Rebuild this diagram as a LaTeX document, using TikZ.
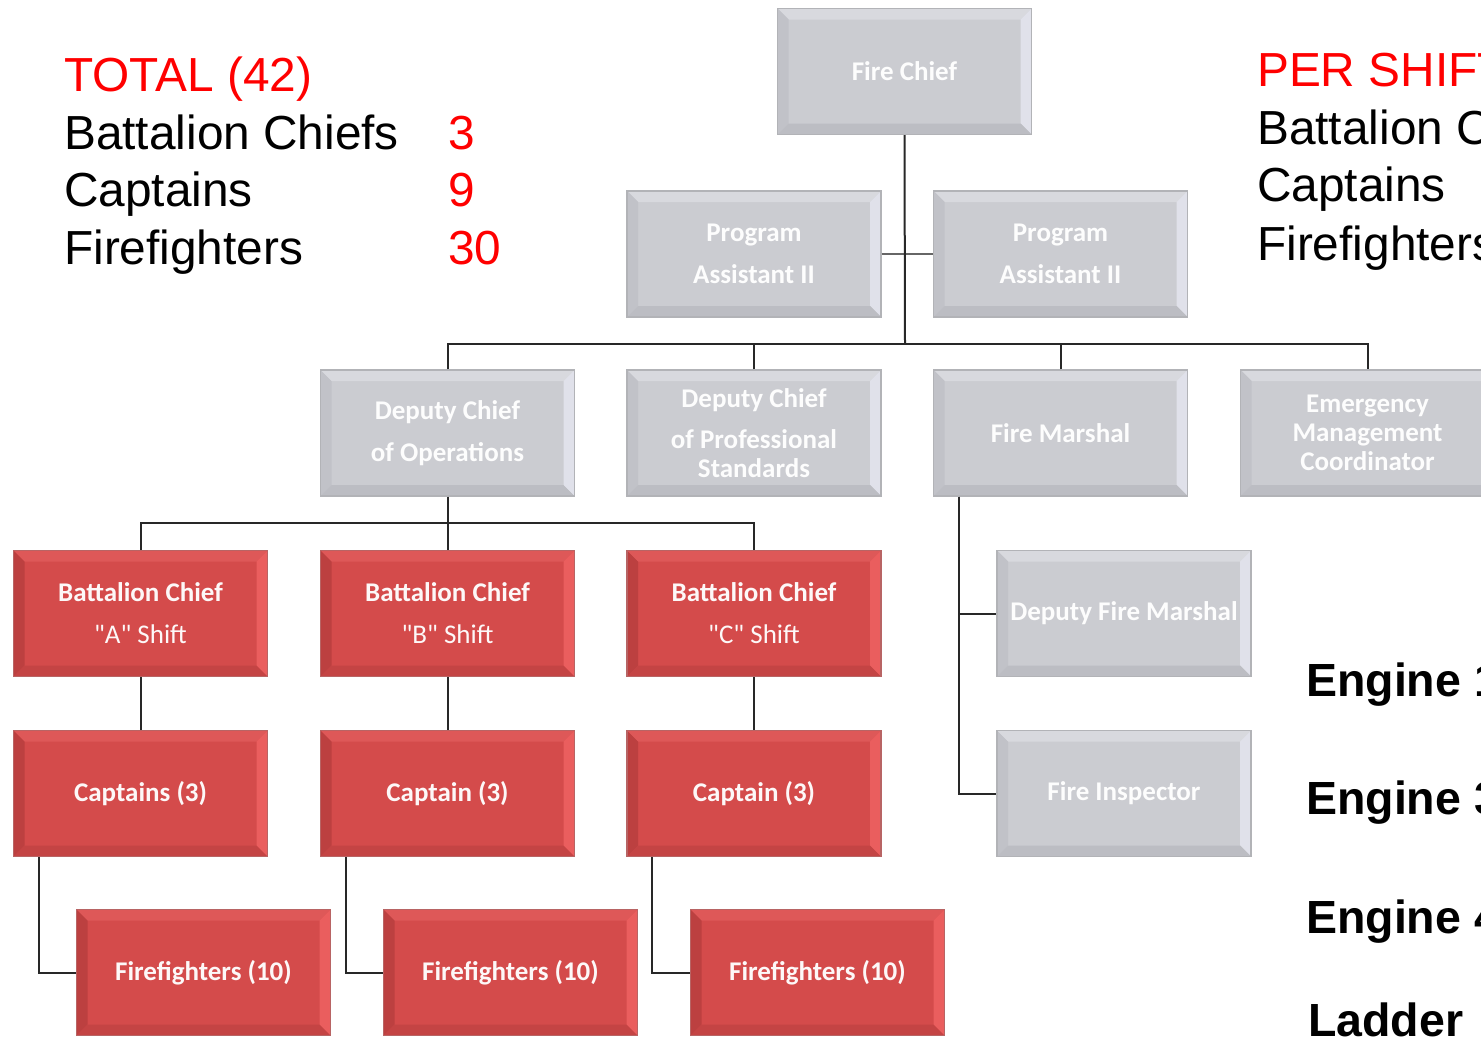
\documentclass[tikz,border=0pt]{standalone}
\usepackage{fontspec}
\newfontfamily\arialfont{Liberation Sans}
\newfontfamily\calfont{Carlito}
\definecolor{gC}{RGB}{203,204,209}
\definecolor{gT}{RGB}{216,217,222}
\definecolor{gL}{RGB}{193,194,200}
\definecolor{gR}{RGB}{224,225,234}
\definecolor{gB}{RGB}{188,189,195}
\definecolor{gBd}{RGB}{178,179,183}
\definecolor{rC}{RGB}{212,75,75}
\definecolor{rT}{RGB}{222,88,88}
\definecolor{rL}{RGB}{188,64,64}
\definecolor{rR}{RGB}{234,94,94}
\definecolor{rB}{RGB}{196,68,68}
\definecolor{rBd}{RGB}{184,100,100}
\definecolor{lineC}{RGB}{40,40,40}
\definecolor{txtred}{RGB}{255,0,0}
\newdimen\bevw \bevw=11pt
\newcommand\bevel[4]{%
 \fill[#1] (path picture bounding box.north west) -- (path picture bounding box.north east)
   -- ([shift={(-\bevw,-\bevw)}]path picture bounding box.north east)
   -- ([shift={(\bevw,-\bevw)}]path picture bounding box.north west) -- cycle;
 \fill[#2] (path picture bounding box.north west) -- (path picture bounding box.south west)
   -- ([shift={(\bevw,\bevw)}]path picture bounding box.south west)
   -- ([shift={(\bevw,-\bevw)}]path picture bounding box.north west) -- cycle;
 \fill[#3] (path picture bounding box.north east) -- (path picture bounding box.south east)
   -- ([shift={(-\bevw,\bevw)}]path picture bounding box.south east)
   -- ([shift={(-\bevw,-\bevw)}]path picture bounding box.north east) -- cycle;
 \fill[#4] (path picture bounding box.south west) -- (path picture bounding box.south east)
   -- ([shift={(-\bevw,\bevw)}]path picture bounding box.south east)
   -- ([shift={(\bevw,\bevw)}]path picture bounding box.south west) -- cycle;
}
\tikzset{
  boxbase/.style={rectangle, minimum width=254pt, minimum height=126pt, inner sep=0pt,
    line width=1.2pt, align=center, text=white,
    font=\calfont\bfseries\fontsize{27}{29}\selectfont},
  gbox/.style={boxbase, draw=gBd, fill=gC, text=white!96!gC, path picture={\bevel{gT}{gL}{gR}{gB}}},
  rbox/.style={boxbase, draw=rBd, fill=rC, text=white!96!rC, path picture={\bevel{rT}{rL}{rR}{rB}}},
  conn/.style={draw=lineC, line width=2pt},
  thinconn/.style={draw=gray!80!black, line width=2pt},
  bigtxt/.style={anchor=base west, inner sep=0pt, font=\arialfont\fontsize{47.8}{56}\selectfont},
  engtxt/.style={anchor=base west, inner sep=0pt, font=\arialfont\bfseries\fontsize{46.5}{56}\selectfont},
}
\begin{document}
\begin{tikzpicture}[x=1pt,y=-1pt]
\useasboundingbox (0,0) rectangle (1481,1037);
\clip (0,0) rectangle (1481,1037);
\fill[white] (0,0) rectangle (1481,1037);

% left summary
\node[bigtxt, text=txtred] (tot) at (64,91) {TOTAL (42)};
\node[bigtxt] (lbc) at (64,149) {Battalion Chiefs};
\node[bigtxt] (lcap) at (64,206) {Captains};
\node[bigtxt] (lff) at (64,264) {Firefighters};
\node[bigtxt, text=txtred] (nbc) at (448,149) {3};
\node[bigtxt, text=txtred] (ncap) at (448,206) {9};
\node[bigtxt, text=txtred] (nff) at (448,264) {30};

% right summary
\node[bigtxt, text=txtred] (ps) at (1257,86) {PER SHIFT};
\node[bigtxt] (rbc) at (1257,144) {Battalion Chiefs};
\node[bigtxt] (rcap) at (1257,201) {Captains};
\node[bigtxt] (rff) at (1257,260) {Firefighters};

\node[engtxt] (e1) at (1306,696) {Engine 1};
\node[engtxt] (e3) at (1306,814) {Engine 3};
\node[engtxt] (e4) at (1306,933) {Engine 4};
\node[engtxt] (lad) at (1308,1036) {Ladder};

% coordinates for buses
\coordinate (bus1) at (905,344);
\coordinate (bus2) at (448,523);

% boxes
\node[gbox] (fc) at (904.5,71.5) {Fire Chief};
\node[gbox] (pa1) at (754,254) {Program\\[13pt]Assistant II};
\node[gbox] (pa2) at (1060.5,254) {Program\\[13pt]Assistant II};

\node[gbox] (dco) at (447.5,433) {Deputy Chief\\[13pt]of Operations};
\node[gbox] (dps) at (754,433) {Deputy Chief\\[12pt]of Professional\\Standards};
\node[gbox] (fm) at (1060.5,433) {Fire Marshal};
\node[gbox] (emc) at (1367.5,433) {Emergency\\Management\\Coordinator};

\node[rbox] (bca) at (140.5,613.5) {Battalion Chief\\[13pt]{\mdseries "A" Shift}};
\node[rbox] (bcb) at (447.5,613.5) {Battalion Chief\\[13pt]{\mdseries "B" Shift}};
\node[rbox] (bcc) at (754,613.5) {Battalion Chief\\[13pt]{\mdseries "C" Shift}};

\node[rbox] (capa) at (140.5,793.5) {Captains (3)};
\node[rbox] (capb) at (447.5,793.5) {Captain (3)};
\node[rbox] (capc) at (754,793.5) {Captain (3)};

\node[rbox] (ffa) at (203.5,972.5) {Firefighters (10)};
\node[rbox] (ffb) at (510.5,972.5) {Firefighters (10)};
\node[rbox] (ffc) at (817.5,972.5) {Firefighters (10)};

\node[gbox] (dfm) at (1124,613.5) {Deputy Fire Marshal};
\node[gbox] (fi) at (1124,793.5) {Fire Inspector};

% connectors
\draw[thinconn] (pa1.east) -- (pa2.west);
\draw[conn] (fc.south) -- (bus1);
\draw[conn] (dco.north) -- (dco.north |- bus1) -- (emc.north |- bus1) -- (emc.north);
\draw[conn] (dps.north) -- (dps.north |- bus1);
\draw[conn] (fm.north) -- (fm.north |- bus1);

\draw[conn] (dco.south) -- (bcb.north);
\draw[conn] (bca.north) -- (bca.north |- bus2) -- (bcc.north |- bus2) -- (bcc.north);

\draw[conn] (bca.south) -- (capa.north);
\draw[conn] (bcb.south) -- (capb.north);
\draw[conn] (bcc.south) -- (capc.north);

\draw[conn] ([xshift=26pt]capa.south west) |- (ffa.west);
\draw[conn] ([xshift=26pt]capb.south west) |- (ffb.west);
\draw[conn] ([xshift=26pt]capc.south west) |- (ffc.west);

\draw[conn] ([xshift=26pt]fm.south west) |- (fi.west);
\draw[conn] ([xshift=26pt]fm.south west) |- (dfm.west);
\end{tikzpicture}
\end{document}
